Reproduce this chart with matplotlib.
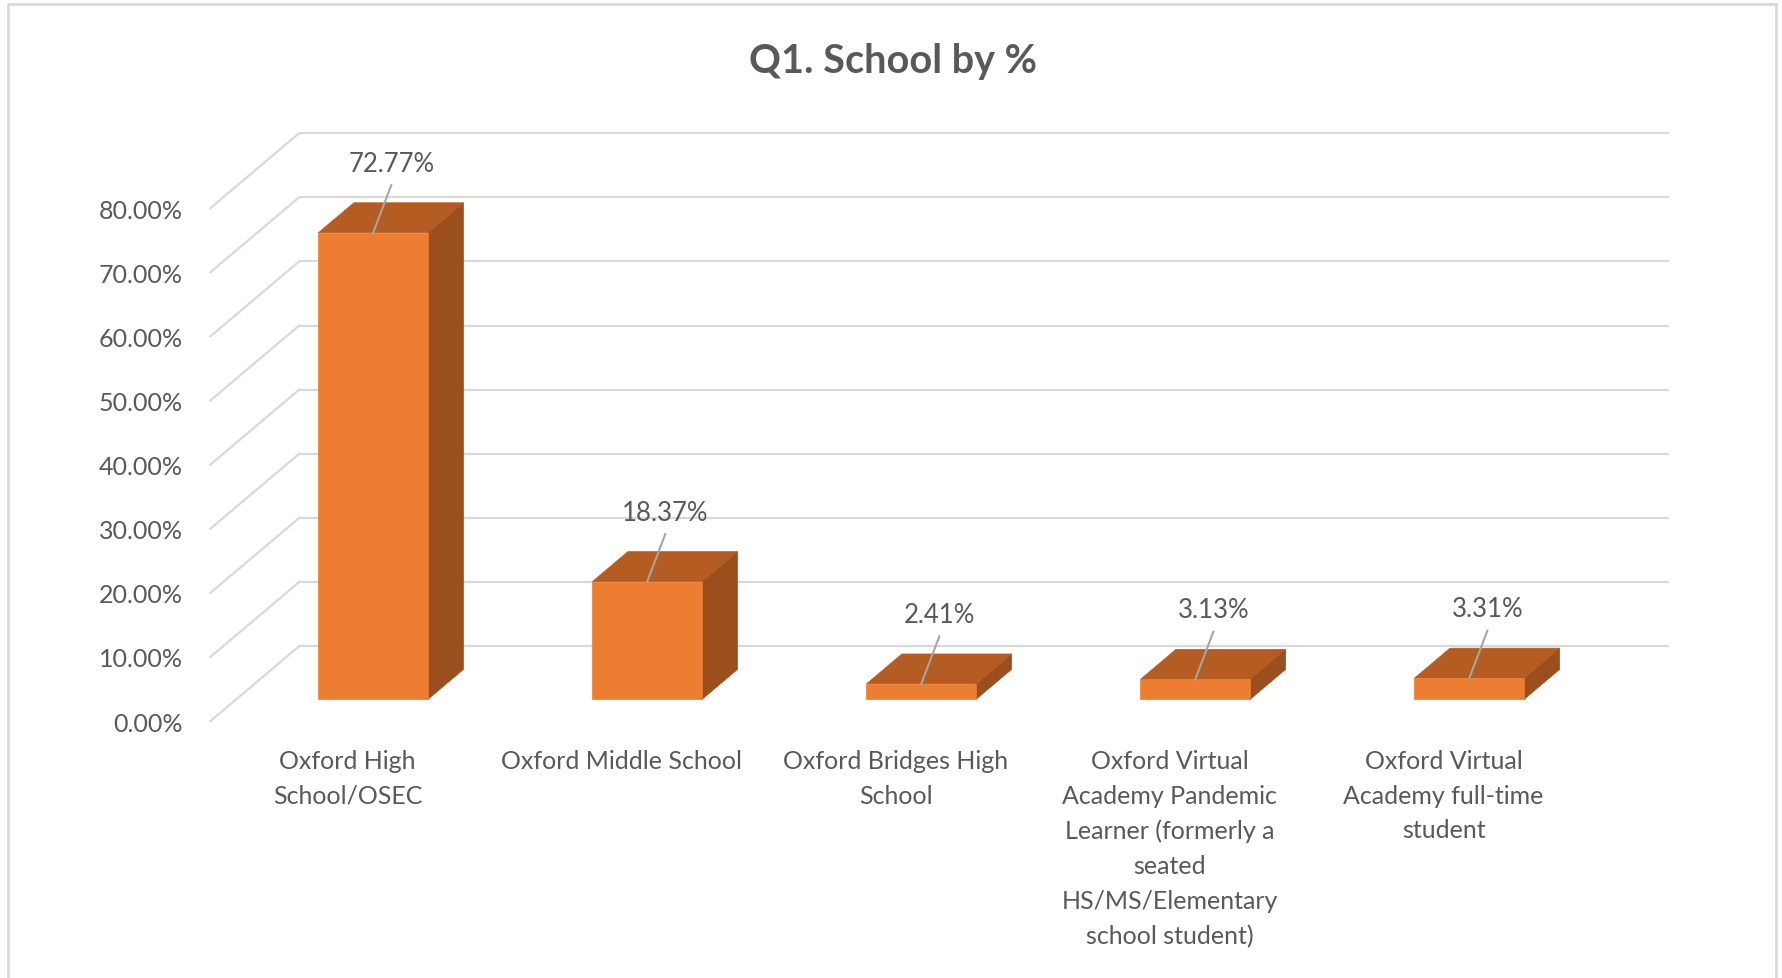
import matplotlib
matplotlib.use("Agg")
import matplotlib.pyplot as plt
from matplotlib.patches import Polygon, Rectangle

plt.rcParams['font.family'] = ['Lato', 'DejaVu Sans']

# ---- data ----
categories = [
    "Oxford High\nSchool/OSEC",
    "Oxford Middle School",
    "Oxford Bridges High\nSchool",
    "Oxford Virtual\nAcademy Pandemic\nLearner (formerly a\nseated\nHS/MS/Elementary\nschool student)",
    "Oxford Virtual\nAcademy full-time\nstudent",
]
values = [72.77, 18.37, 2.41, 3.13, 3.31]
y_ticks = [0, 10, 20, 30, 40, 50, 60, 70, 80]
y_tick_labels = [f"{t:.2f}%" for t in y_ticks]
title = "Q1. School by %"

# ---- style ----
TEXT = '#595959'
GRID = '#D9D9D9'
FRONT = '#ED7D31'
TOP = '#B45C21'
SIDE = '#9A4F1D'
LEADER = '#A6A6A6'

# oblique projection: full depth shifts x by DX (category units) and y by DY (% units)
DX = 0.3237
DY = 11.68
D0 = 0.29   # depth of bar front face
DD = 0.40   # bar depth
W = 0.40    # bar width

W_PX, H_PX = 1783, 979
fig = plt.figure(figsize=(W_PX / 100, H_PX / 100), dpi=100)
fig.patch.set_facecolor('white')

left = 210.4 / W_PX
right = 1669.3 / W_PX
bottom = 1 - 722.1 / H_PX
top = 1 - 134.2 / H_PX
ax = fig.add_axes([left, bottom, right - left, top - bottom])
ax.set_facecolor('none')
n = len(categories)
ax.set_xlim(-0.5, n - 0.5 + DX)
ax.set_ylim(0, y_ticks[-1] + DY)
for s in ax.spines.values():
    s.set_visible(False)

# gridlines: back wall + left side wall diagonals
for g in y_ticks:
    ax.plot([-0.5 + DX, n - 0.5 + DX], [g + DY, g + DY], color=GRID, lw=1.6,
            zorder=0, solid_capstyle='butt', clip_on=False)
    ax.plot([-0.5, -0.5 + DX], [g, g + DY], color=GRID, lw=1.6, zorder=0,
            clip_on=False)

# bars
for i, v in enumerate(values):
    xl = i - W / 2 + D0 * DX
    xr = i + W / 2 + D0 * DX
    yb = D0 * DY
    ox, oy = DD * DX, DD * DY
    front = Rectangle((xl, yb), W, v, facecolor=FRONT, edgecolor=FRONT, lw=0.5, zorder=3)
    topf = Polygon([(xl, yb + v), (xr, yb + v), (xr + ox, yb + v + oy), (xl + ox, yb + v + oy)],
                   closed=True, facecolor=TOP, edgecolor=TOP, lw=0.5, zorder=2)
    side = Polygon([(xr, yb), (xr, yb + v), (xr + ox, yb + v + oy), (xr + ox, yb + oy)],
                   closed=True, facecolor=SIDE, edgecolor=SIDE, lw=0.5, zorder=2)
    ax.add_patch(side)
    ax.add_patch(topf)
    ax.add_patch(front)

    # data label with leader line
    lx = i + 0.16
    ly = v + 14.2
    ax.plot([lx, i + D0 * DX], [ly - 3.4, v + D0 * DY], color=LEADER, lw=1.5, zorder=4)
    ax.text(lx, ly, f"{v:.2f}%", ha='center', va='center', fontsize=18.5, color=TEXT, zorder=5)

ax.set_yticks(y_ticks)
ax.set_yticklabels(y_tick_labels)
ax.set_xticks(range(n))
ax.set_xticklabels(categories, linespacing=1.62)
ax.tick_params(axis='y', length=0, pad=20, labelsize=18, labelcolor=TEXT)
ax.tick_params(axis='x', length=0, pad=20, labelsize=18, labelcolor=TEXT)

fig.text(893 / W_PX, 1 - 73 / H_PX, title, ha='center', va='baseline',
         fontsize=28.5, fontweight='bold', color=TEXT)

# chart border
fig.add_artist(Rectangle((8 / W_PX, -0.02), (1776 - 8) / W_PX, 1 - 5 / H_PX + 0.02,
                         transform=fig.transFigure, fill=False, edgecolor=GRID, lw=2))

fig.savefig('out.png', dpi=100, facecolor='white')
